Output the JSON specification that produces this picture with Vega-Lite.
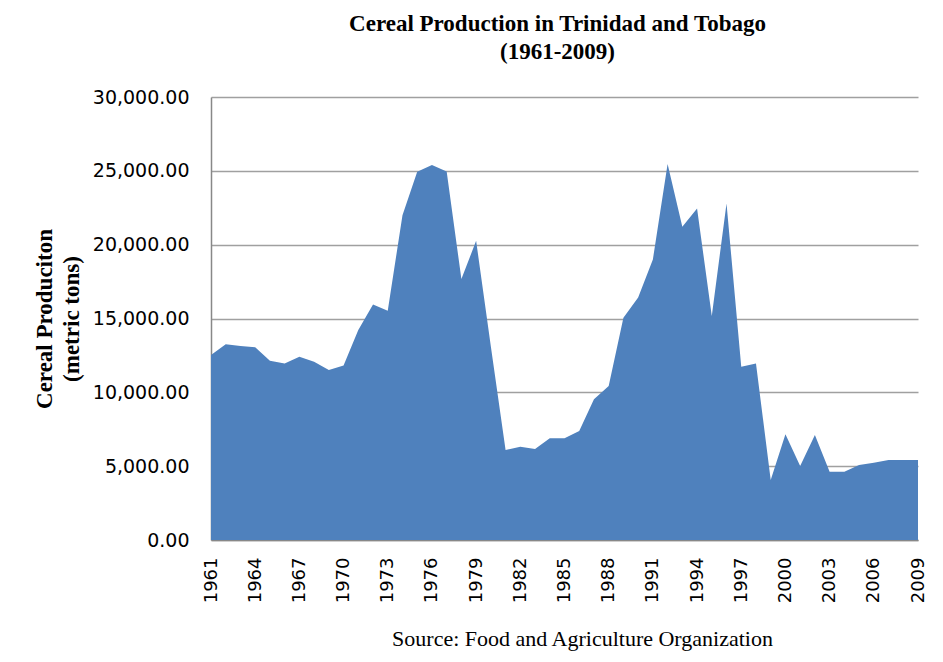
{
  "$schema": "https://vega.github.io/schema/vega-lite/v6.json",
  "autosize": "none",
  "width": 707,
  "height": 443,
  "padding": {"left": 211, "top": 97, "right": 25, "bottom": 122},
  "background": "white",
  "title": {
    "text": ["Cereal Production in Trinidad and Tobago", "(1961-2009)"],
    "font": "Liberation Serif",
    "fontSize": 23,
    "fontWeight": "bold",
    "color": "#000000",
    "anchor": "middle",
    "offset": 24,
    "lineHeight": 28,
    "dx": -7
  },
  "config": {
    "view": {"stroke": null},
    "axis": {"grid": false}
  },
  "data": {
    "values": [
      {"year": 1961, "production": 12525},
      {"year": 1962, "production": 13250},
      {"year": 1963, "production": 13130},
      {"year": 1964, "production": 13045},
      {"year": 1965, "production": 12140},
      {"year": 1966, "production": 11960},
      {"year": 1967, "production": 12410},
      {"year": 1968, "production": 12070},
      {"year": 1969, "production": 11510},
      {"year": 1970, "production": 11825},
      {"year": 1971, "production": 14220},
      {"year": 1972, "production": 15955},
      {"year": 1973, "production": 15525},
      {"year": 1974, "production": 22000},
      {"year": 1975, "production": 24935},
      {"year": 1976, "production": 25390},
      {"year": 1977, "production": 24960},
      {"year": 1978, "production": 17670},
      {"year": 1979, "production": 20260},
      {"year": 1980, "production": 13100},
      {"year": 1981, "production": 6090},
      {"year": 1982, "production": 6315},
      {"year": 1983, "production": 6160},
      {"year": 1984, "production": 6885},
      {"year": 1985, "production": 6885},
      {"year": 1986, "production": 7380},
      {"year": 1987, "production": 9525},
      {"year": 1988, "production": 10425},
      {"year": 1989, "production": 15050},
      {"year": 1990, "production": 16430},
      {"year": 1991, "production": 19000},
      {"year": 1992, "production": 25455},
      {"year": 1993, "production": 21210},
      {"year": 1994, "production": 22455},
      {"year": 1995, "production": 15165},
      {"year": 1996, "production": 22795},
      {"year": 1997, "production": 11735},
      {"year": 1998, "production": 11960},
      {"year": 1999, "production": 4060},
      {"year": 2000, "production": 7155},
      {"year": 2001, "production": 5010},
      {"year": 2002, "production": 7110},
      {"year": 2003, "production": 4625},
      {"year": 2004, "production": 4625},
      {"year": 2005, "production": 5080},
      {"year": 2006, "production": 5235},
      {"year": 2007, "production": 5415},
      {"year": 2008, "production": 5415},
      {"year": 2009, "production": 5415}
    ]
  },
  "mark": {"type": "area", "color": "#4F81BD", "opacity": 1},
  "encoding": {
    "x": {
      "field": "year",
      "type": "quantitative",
      "scale": {"domain": [1961, 2009], "nice": false, "zero": false},
      "axis": {
        "values": [1961, 1964, 1967, 1970, 1973, 1976, 1979, 1982, 1985, 1988, 1991, 1994, 1997, 2000, 2003, 2006, 2009],
        "format": "d",
        "labelAngle": -90,
        "labelAlign": "right",
        "labelBaseline": "middle",
        "labelFont": "DejaVu Sans",
        "labelFontSize": 18,
        "labelColor": "#000000",
        "labelPadding": 17,
        "labelOverlap": false,
        "labelFlush": false,
        "ticks": false,
        "domainColor": "#888888",
        "domainWidth": 1.5,
        "title": "Source: Food and Agriculture Organization",
        "titleFont": "Liberation Serif",
        "titleFontSize": 22,
        "titleFontWeight": "normal",
        "titleColor": "#000000",
        "titlePadding": 26,
        "titleX": 371
      }
    },
    "y": {
      "field": "production",
      "type": "quantitative",
      "scale": {"domain": [0, 30000], "nice": false},
      "axis": {
        "values": [0, 5000, 10000, 15000, 20000, 25000, 30000],
        "format": ",.2f",
        "grid": true,
        "gridColor": "#A0A0A0",
        "gridWidth": 1.5,
        "labelFont": "DejaVu Sans",
        "labelFontSize": 19,
        "labelColor": "#000000",
        "labelPadding": 22,
        "ticks": false,
        "domainColor": "#888888",
        "domainWidth": 1.5,
        "title": ["Cereal Produciton", "(metric  tons)"],
        "titleFont": "Liberation Serif",
        "titleFontSize": 23,
        "titleFontWeight": "bold",
        "titleColor": "#000000",
        "titleLineHeight": 27,
        "titlePadding": 9
      }
    }
  }
}
